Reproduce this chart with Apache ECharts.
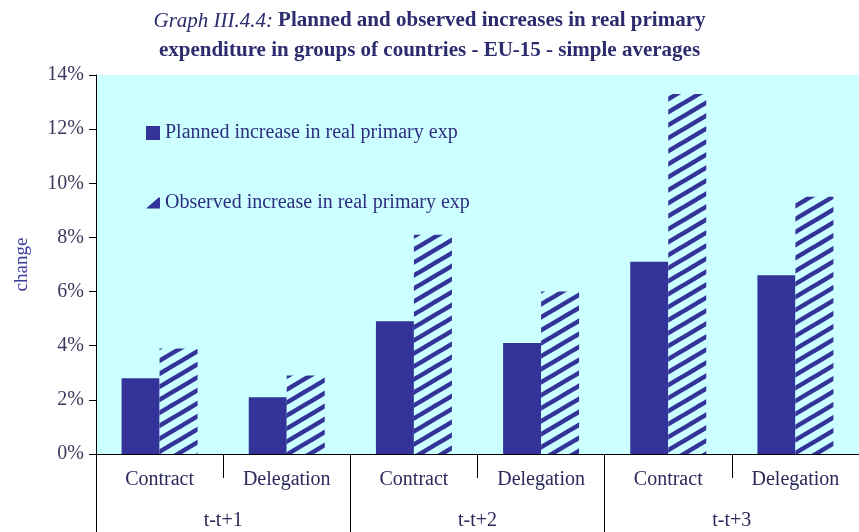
<!DOCTYPE html>
<html>
<head>
<meta charset="utf-8">
<script src="https://cdn.jsdelivr.net/npm/echarts@6/dist/echarts.min.js"></script>
<style>
  html, body { margin: 0; padding: 0; background: #fff; }
  #chart { width: 859px; height: 532px; }
</style>
</head>
<body>
<div id="chart"></div>
<script>
// categories and values (percent)
const categories = ['Contract', 'Delegation', 'Contract', 'Delegation', 'Contract', 'Delegation']
const groups = ['t-t+1', 't-t+2', 't-t+3']
const planned = [2.8, 2.1, 4.9, 4.1, 7.1, 6.6]
const observed = [3.9, 2.9, 8.1, 6.0, 13.3, 9.5]
const yTicks = [0, 2, 4, 6, 8, 10, 12, 14]

const navy = '#333399'
const serif = '"Liberation Serif", "DejaVu Serif", serif'

// diagonal hatch for observed bars
function makeHatch () {
  const w = 22
  const h = 13
  const c = document.createElement('canvas')
  c.width = w
  c.height = h
  const ctx = c.getContext('2d')
  ctx.fillStyle = '#ccffff'
  ctx.fillRect(0, 0, w, h)
  ctx.strokeStyle = navy
  ctx.lineWidth = 4.5
  ;[-h, 0, h].forEach(dy => {
    ctx.beginPath()
    ctx.moveTo(-w, h + dy + h)
    ctx.lineTo(2 * w, dy - h)
    ctx.stroke()
  })
  return c
}
const hatch = makeHatch()

const myChart = echarts.init(document.getElementById('chart'))
myChart.setOption({
  animation: false,
  backgroundColor: '#fff',
  title: {
    left: 'center',
    top: 1,
    text: '{i|Graph III.4.4:} {b|Planned and observed increases in real primary}\n{b|expenditure in groups of countries - EU-15 - simple averages}',
    textStyle: {
      rich: {
        i: { fontFamily: serif, fontStyle: 'italic', fontWeight: 'normal', fontSize: 21, color: '#2b2b6e', lineHeight: 30 },
        b: { fontFamily: serif, fontWeight: 'bold', fontSize: 21, color: '#2b2b6e', lineHeight: 30 }
      }
    }
  },
  legend: {
    orient: 'vertical',
    left: 141,
    top: 118,
    itemWidth: 14,
    itemHeight: 14,
    itemGap: 50,
    textStyle: { fontFamily: serif, fontSize: 20, color: '#2e2e80' },
    data: [
      { name: 'Planned increase in real primary exp', icon: 'rect', itemStyle: { color: navy } },
      { name: 'Observed increase in real primary exp', icon: 'path://M0,10 L9,2 L10,2 L10,10 Z', itemStyle: { color: navy } }
    ]
  },
  grid: {
    left: 96,
    top: 75,
    width: 768,
    height: 379,
    show: true,
    backgroundColor: '#ccffff',
    borderWidth: 0
  },
  xAxis: [{
    type: 'category',
    data: categories,
    position: 'bottom',
    axisLine: { show: true, lineStyle: { color: '#000', width: 1 } },
    axisTick: { show: true, interval: 0, length: 24, lineStyle: { color: '#000' } },
    axisLabel: { interval: 0, margin: 16, fontFamily: serif, fontSize: 20, color: '#2a2a5a' }
  }, {
    type: 'category',
    data: groups,
    position: 'bottom',
    axisLine: { show: false },
    axisTick: { show: true, interval: 0, length: 80, lineStyle: { color: '#000' } },
    axisLabel: { interval: 0, margin: 57, fontFamily: serif, fontSize: 20, color: '#2a2a5a' }
  }],
  yAxis: {
    type: 'value',
    min: yTicks[0],
    max: yTicks[yTicks.length - 1],
    interval: 2,
    name: 'change',
    nameLocation: 'middle',
    nameGap: 64,
    nameTextStyle: { fontFamily: serif, fontSize: 19, color: '#3c3c9c' },
    axisLine: { show: true, lineStyle: { color: '#000' } },
    axisTick: { show: true, length: 7, lineStyle: { color: '#000' } },
    axisLabel: { formatter: '{value}%', margin: 12, fontFamily: serif, fontSize: 20, color: '#3a3a5e' },
    splitLine: { show: false }
  },
  series: [{
    name: 'Planned increase in real primary exp',
    type: 'bar',
    data: planned,
    barWidth: 38,
    barGap: '0%',
    itemStyle: { color: navy }
  }, {
    name: 'Observed increase in real primary exp',
    type: 'bar',
    data: observed,
    barWidth: 38,
    barGap: '0%',
    itemStyle: { color: { image: hatch, repeat: 'repeat' } }
  }]
})
</script>
</body>
</html>
